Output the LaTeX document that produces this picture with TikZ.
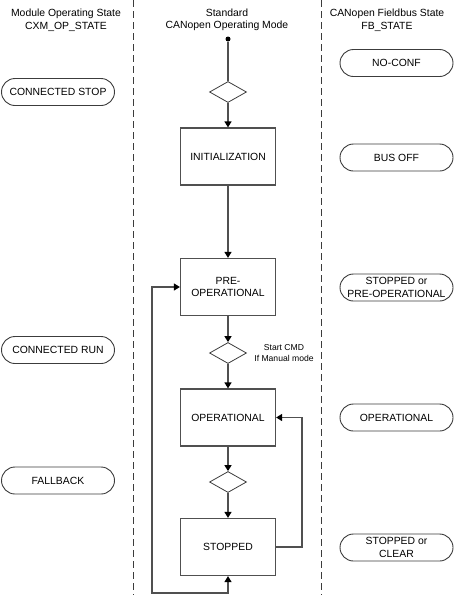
\documentclass[tikz,border=0pt]{standalone}
\usepackage{fontspec}
\setmainfont{Liberation Sans}
\usetikzlibrary{arrows.meta,shapes.geometric}
\definecolor{lc}{RGB}{80,80,80}
\definecolor{bc}{RGB}{60,60,60}
\begin{document}
\begin{tikzpicture}[x=1pt,y=-1pt,
  font=\fontsize{10.4}{12.6}\selectfont,
  tip/.style={},
  link/.style={draw=lc, line width=1.3pt},
  flow/.style={link, -{Triangle[length=6pt,width=7pt,color=black]}},
  dblflow/.style={link, {Triangle[length=6pt,width=7pt,color=black]}-{Triangle[length=6pt,width=7pt,color=black]}},
  statebox/.style={draw=lc, line width=1.2pt, minimum width=95pt, minimum height=57pt, inner sep=0pt, align=center},
  decision/.style={draw=bc, line width=0.8pt, diamond, aspect=1.76, minimum width=37pt, minimum height=21pt, inner sep=0pt},
  pill/.style={draw=bc, line width=0.9pt, rounded corners=13.5pt, minimum width=113pt, minimum height=27pt, inner sep=0pt, align=center},
  header/.style={align=center, inner sep=0pt},
  lane/.style={draw=bc, line width=0.9pt, dash pattern=on 7pt off 4pt}
]
\useasboundingbox (0,0) rectangle (454,595);

% lane separators
\coordinate (l1t) at (133,0);
\coordinate (l1b) at (133,595);
\coordinate (l2t) at (321,0);
\coordinate (l2b) at (321,595);
\draw[lane] (l1t) -- (l1b);
\draw[lane] (l2t) -- (l2b);

% headers
\node[header] (h1) at (66,20) {Module Operating State\\CXM\_OP\_STATE};
\node[header] (h2) at (227,20) {Standard\\CANopen Operating Mode};
\node[header] (h3) at (387,20) {CANopen Fieldbus State\\FB\_STATE};

% central flow
\node[circle, fill=black, inner sep=0pt, minimum size=5pt] (start) at (228,39) {};
\node[decision] (d1) at (228,92) {};
\node[statebox] (init) at (228,156.5) {INITIALIZATION};
\node[statebox] (pre) at (228,287) {PRE-\\OPERATIONAL};
\node[decision] (d2) at (228,353) {};
\node[statebox] (op) at (228,417.5) {OPERATIONAL};
\node[decision] (d3) at (228,482) {};
\node[statebox] (stop) at (228,547) {STOPPED};

\node[header, font=\fontsize{8.6}{11}\selectfont] (cmd) at (284,353.5) {Start CMD\\If Manual mode};

\coordinate (loopR) at (302,547);
\coordinate (loopBL) at (152,593);

\draw[link] (start) -- (d1);
\draw[flow] (d1) -- (init);
\draw[flow] (init) -- (pre);
\draw[flow] (pre) -- (d2);
\draw[flow] (d2) -- (op);
\draw[flow] (op) -- (d3);
\draw[flow] (d3) -- (stop);
\draw[flow] (stop.east) -- (loopR) |- (op.east);
\draw[dblflow] (pre.west) -| (loopBL) -| (stop.south);

% module operating states
\node[pill] (cstop) at (58,92) {CONNECTED STOP};
\node[pill] (crun) at (58,350) {CONNECTED RUN};
\node[pill] (fb) at (58,480.5) {FALLBACK};

% fieldbus states
\node[pill] (noconf) at (396.5,63) {NO-CONF};
\node[pill] (busoff) at (396.5,157.5) {BUS OFF};
\node[pill] (stpre) at (396.5,287.5) {STOPPED or\\PRE-OPERATIONAL};
\node[pill] (fop) at (396.5,417.5) {OPERATIONAL};
\node[pill] (stcl) at (396.5,547.5) {STOPPED or\\CLEAR};
\end{tikzpicture}
\end{document}
